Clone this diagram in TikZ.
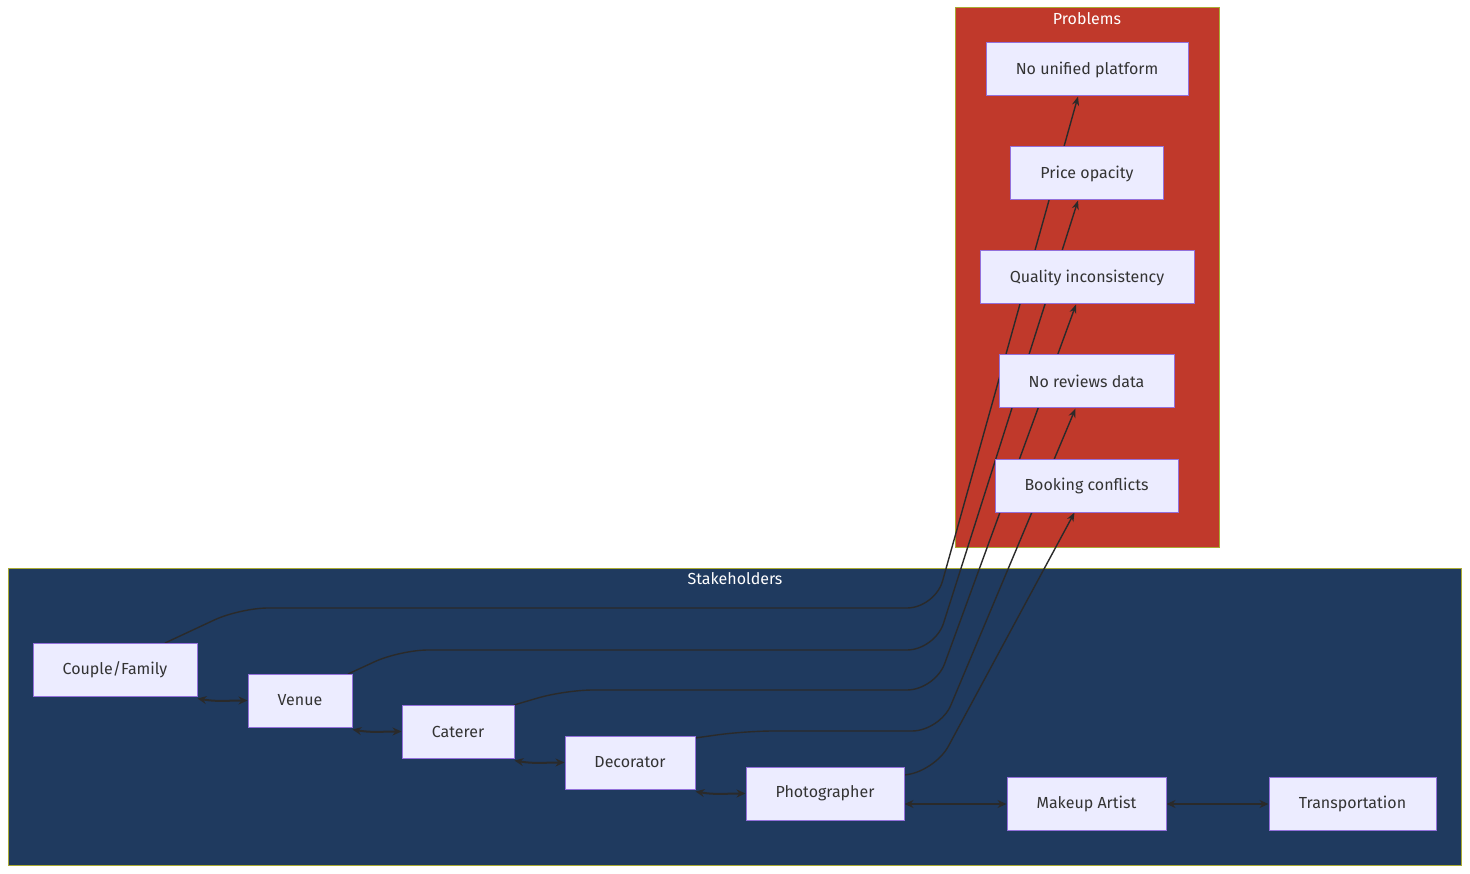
\documentclass[tikz,border=0pt]{standalone}
\usepackage{fontspec}
\setmainfont{Fira Sans}
\usetikzlibrary{arrows.meta}
\definecolor{nfill}{HTML}{ECECFF}
\definecolor{nstroke}{HTML}{9370DB}
\definecolor{txt}{HTML}{333333}
\definecolor{edge}{HTML}{2A2A2A}
\definecolor{probred}{HTML}{C0392B}
\definecolor{stakeblue}{HTML}{1F3A5F}
\definecolor{clstroke}{HTML}{AAAA33}
\pgfdeclarelayer{bg}
\pgfdeclarelayer{edges}
\pgfsetlayers{bg,edges,main}
\begin{document}
\begin{tikzpicture}[x=1pt,y=-1pt,
  box/.style={draw=nstroke,fill=nfill,line width=1pt,inner sep=0pt,text=txt,font=\fontsize{16}{19}\selectfont,anchor=center},
  cl/.style={draw=clstroke,line width=1pt},
  ttl/.style={text=white,font=\fontsize{16}{19}\selectfont},
  link/.style={draw=edge,line width=1.4pt,-{Stealth[length=9pt,width=7pt]}},
  dlink/.style={draw=edge,line width=2pt,{Stealth[length=9pt,width=8pt]}-{Stealth[length=9pt,width=8pt]}}]
\useasboundingbox (0,0) rectangle (1470,874);
\begin{pgfonlayer}{bg}
\fill[white] (0,0) rectangle (1470,874);
\draw[cl,fill=probred] (955,8) rectangle (1219,547);
\draw[cl,fill=stakeblue] (8,568) rectangle (1461,865);
\end{pgfonlayer}
\node[ttl] (tp) at (1087,19) {Problems};
\node[ttl] (ts) at (735,579) {Stakeholders};
\node[box,minimum width=202pt,minimum height=53pt] (p1) at (1087,69.5) {No unified platform};
\node[box,minimum width=153pt,minimum height=53pt] (p2) at (1087,173.5) {Price opacity};
\node[box,minimum width=214pt,minimum height=53pt] (p3) at (1087,277.5) {Quality inconsistency};
\node[box,minimum width=175pt,minimum height=53pt] (p4) at (1086.5,381.5) {No reviews data};
\node[box,minimum width=183pt,minimum height=53pt] (p5) at (1086.5,485.5) {Booking conflicts};
\node[box,minimum width=164pt,minimum height=53pt] (s1) at (115,669.5) {Couple/Family};
\node[box,minimum width=104pt,minimum height=53pt] (s2) at (300,700.5) {Venue};
\node[box,minimum width=112pt,minimum height=53pt] (s3) at (458,731.5) {Caterer};
\node[box,minimum width=130pt,minimum height=53pt] (s4) at (630,762.5) {Decorator};
\node[box,minimum width=158pt,minimum height=53pt] (s5) at (825,793.5) {Photographer};
\node[box,minimum width=159pt,minimum height=53pt] (s6) at (1086.5,803.5) {Makeup Artist};
\node[box,minimum width=167pt,minimum height=53pt] (s7) at (1352.5,803.5) {Transportation};
\begin{pgfonlayer}{edges}
\draw[dlink] ([yshift=-2pt]s1.south east) to[out=-10,in=180] (s2.west);
\draw[dlink] ([yshift=-2pt]s2.south east) to[out=-10,in=180] (s3.west);
\draw[dlink] ([yshift=-2pt]s3.south east) to[out=-10,in=180] (s4.west);
\draw[dlink] ([yshift=-2pt]s4.south east) to[out=-10,in=180] (s5.west);
\draw[dlink] ([yshift=-0.5pt]s5.east|-s6) -- ([yshift=-0.5pt]s6.west);
\draw[dlink] ([yshift=-0.5pt]s6.east) -- ([yshift=-0.5pt]s7.west);
\draw[link,rounded corners=28pt] (165,643) -- (240,608) -- (935,608) -- ([xshift=-9pt]p1.south);
\draw[link,rounded corners=28pt] (348,674) -- (400,650) -- (935,650) -- ([xshift=-9pt]p2.south);
\draw[link,rounded corners=28pt] (514,705) -- (565,690) -- (935,690) -- ([xshift=-11pt]p3.south);
\draw[link,rounded corners=28pt] (695,738) -- (745,731) -- (940,731) -- ([xshift=-11pt]p4.south);
\draw[link,rounded corners=28pt] (904,775) -- (935,771) -- ([xshift=-12pt]p5.south);
\end{pgfonlayer}
\end{tikzpicture}
\end{document}
